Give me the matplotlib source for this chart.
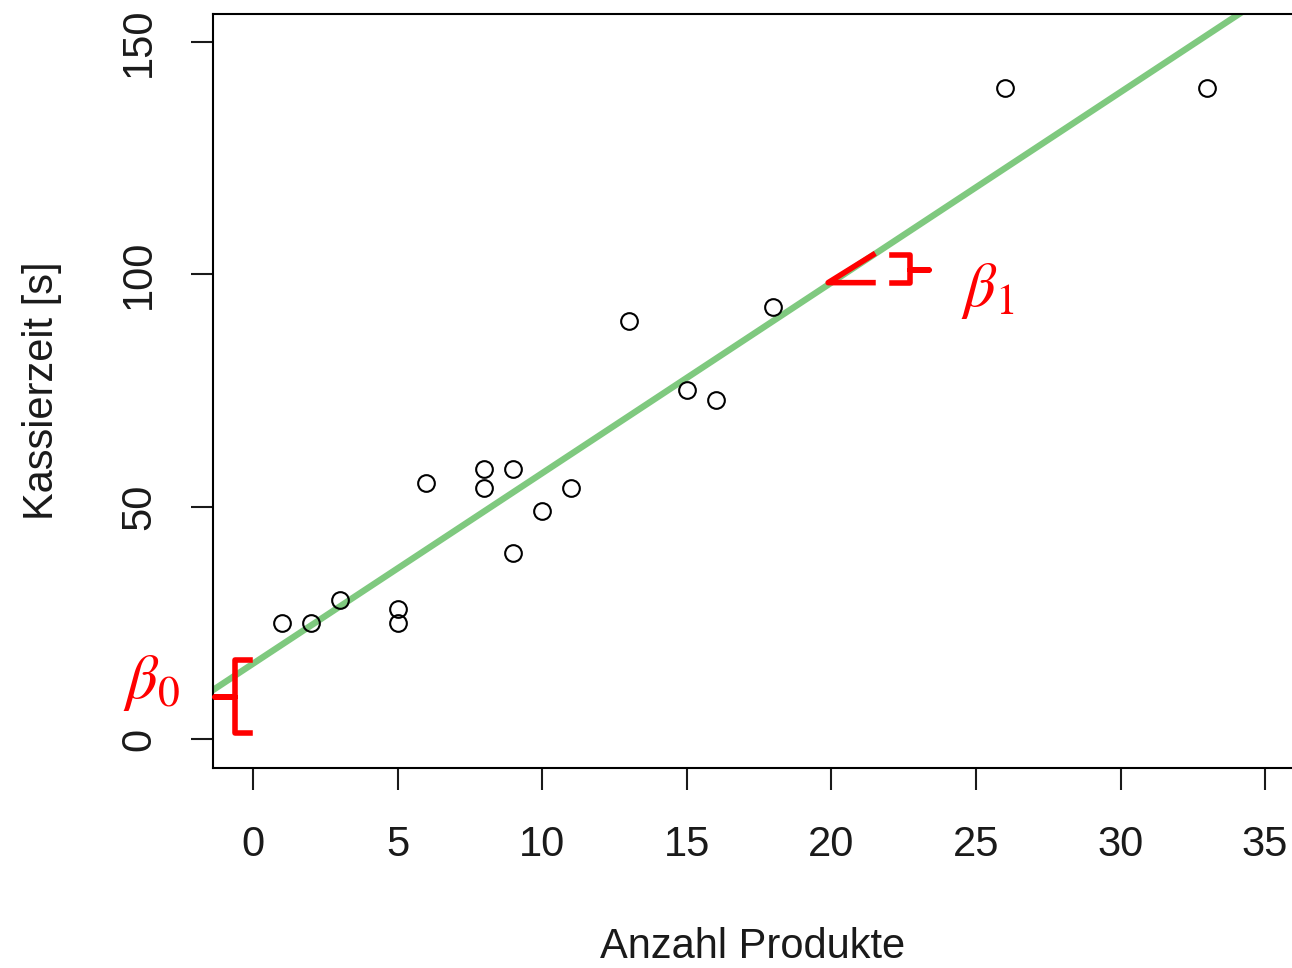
import numpy as np
import matplotlib
matplotlib.use('Agg')
import matplotlib.pyplot as plt

plt.rcParams['font.family'] = ['Liberation Sans', 'DejaVu Sans']
plt.rcParams['mathtext.fontset'] = 'stix'

# data
produkte = [1, 2, 3, 5, 5, 6, 8, 8, 9, 9, 10, 11, 13, 15, 16, 18, 26, 33]
kassierzeit = [25, 25, 30, 28, 25, 55, 58, 54, 58, 40, 49, 54, 90, 75, 73, 93, 140, 140]
beta0 = 16.2
beta1 = 4.1
xticks = [0, 5, 10, 15, 20, 25, 30, 35]
yticks = [0, 50, 100, 150]

fig = plt.figure(figsize=(12.92, 9.68), dpi=100)
ax = fig.add_axes([0.1649, 0.2066, 0.8351, 0.7789])

xlo, xhi = -1.38, 35.93
ylo, yhi = -6.24, 156.0
ax.set_xlim(xlo, xhi)
ax.set_ylim(ylo, yhi)

xs = np.array([xlo, xhi])
ax.plot(xs, beta0 + beta1 * xs, color='#7fc97f', lw=4.6, zorder=2)
ax.plot(produkte, kassierzeit, 'o', mfc='none', mec='black', ms=12, mew=1.5, zorder=3)

red = '#ff0000'
# beta0 brace
ax.plot([-0.10, -0.62, -0.62, -1.30, -0.62, -0.62, -0.10],
        [17.0, 17.0, 9.0, 9.0, 9.0, 1.3, 1.3],
        color=red, lw=4, solid_joinstyle='round', clip_on=False, zorder=4)
ax.text(-3.5, 12.0, r'$\beta_0$', color=red, fontsize=45, ha='center', va='center',
        clip_on=False)

# beta1 slope marker
ax.plot([21.44, 19.89, 21.44], [104.2, 98.2, 98.2], color=red, lw=4, zorder=4)
ax.plot([22.10, 22.72, 22.72, 23.38, 22.72, 22.72, 22.10],
        [104.2, 104.2, 101.0, 101.0, 101.0, 98.2, 98.2],
        color=red, lw=4, solid_joinstyle='round', zorder=4)
ax.text(25.4, 96.5, r'$\beta_1$', color=red, fontsize=45, ha='center', va='center')

for s in ['left', 'top', 'bottom']:
    ax.spines[s].set_linewidth(1.5)
ax.spines['right'].set_visible(False)

ax.set_xticks(xticks)
ax.set_yticks(yticks)
ax.set_yticklabels([str(v) for v in yticks], rotation=90, va='center')
ax.tick_params(axis='both', length=16, width=1.5, direction='out', labelsize=30,
               colors='#1a1a1a')
ax.tick_params(axis='x', pad=25)
ax.tick_params(axis='y', pad=23)

ax.set_xlabel('Anzahl Produkte', fontsize=30, color='#1a1a1a', labelpad=45)
ax.set_ylabel('Kassierzeit [s]', fontsize=30, color='#1a1a1a', labelpad=41)

fig.savefig('out.png', dpi=100)
